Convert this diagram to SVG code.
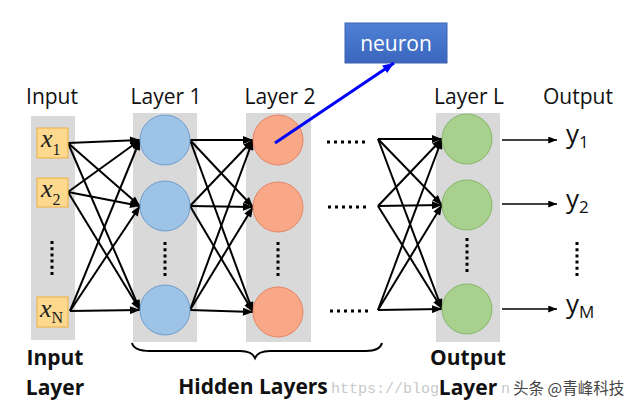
<svg xmlns="http://www.w3.org/2000/svg" width="640" height="410" viewBox="0 0 640 410">
<style>
.lbl{font-family:"Open Sans","Liberation Sans",sans-serif;font-size:21px;fill:#111;text-anchor:middle}
.bld{font-family:"Open Sans","Liberation Sans",sans-serif;font-size:21px;font-weight:bold;fill:#111;text-anchor:middle}
.col{fill:#d9d9d9}
.xb{fill:#fcd98e;stroke:#eeb041;stroke-width:1}
.xv{font-family:"Liberation Serif",serif;font-style:italic;font-size:26px;fill:#222}
.xs{font-family:"Liberation Serif",serif;font-size:16px;fill:#222}
.blue{fill:#9dc3e6;stroke:#6e9bd0;stroke-width:1}
.org{fill:#f8a886;stroke:#e58565;stroke-width:1}
.grn{fill:#a9d18e;stroke:#85b66a;stroke-width:1}
.ed{stroke:#000;stroke-width:2;fill:none;marker-end:url(#ah)}
.out{stroke:#000;stroke-width:1.5;fill:none;marker-end:url(#ah2)}
.hd{stroke:#000;stroke-width:3;stroke-dasharray:3 4;fill:none}
.vd{stroke:#000;stroke-width:3;stroke-dasharray:3 3.2;fill:none}
.yv{font-family:"Open Sans","Liberation Sans",sans-serif;font-size:26px;fill:#111}
.ys{font-family:"Open Sans","Liberation Sans",sans-serif;font-size:17px;fill:#111}
</style>
<defs>
<marker id="ah" viewBox="0 0 10 8" markerWidth="11" markerHeight="8" markerUnits="userSpaceOnUse" refX="10" refY="4" orient="auto"><path d="M0,0 L10,4 L0,8 Z" fill="#000"/></marker>
<marker id="ah2" viewBox="0 0 10 8" markerWidth="9" markerHeight="7" markerUnits="userSpaceOnUse" refX="10" refY="4" orient="auto"><path d="M0,0 L10,4 L0,8 Z" fill="#000"/></marker>
<marker id="ahb" viewBox="0 0 10 8" markerWidth="12" markerHeight="9" markerUnits="userSpaceOnUse" refX="10" refY="4" orient="auto"><path d="M0,0 L10,4 L0,8 Z" fill="#0000ff"/></marker>
<linearGradient id="nb" x1="0" y1="0" x2="0" y2="1"><stop offset="0" stop-color="#4f81d4"/><stop offset="1" stop-color="#3a66bd"/></linearGradient>
</defs>
<rect width="640" height="410" fill="#fff"/>

<g id="column-bg">
<rect class="col" x="31" y="116" width="44" height="224"/>
<rect class="col" x="133" y="113" width="64" height="229"/>
<rect class="col" x="246" y="113" width="65" height="229"/>
<rect class="col" x="436" y="113" width="64" height="229"/>
</g>

<g id="top-labels">
<text class="lbl" x="52" y="104">Input</text>
<text class="lbl" x="166" y="104">Layer 1</text>
<text class="lbl" x="280" y="104">Layer 2</text>
<text class="lbl" x="469" y="104">Layer L</text>
<text class="lbl" x="578" y="104">Output</text>
</g>

<g id="connectors">
<line class="ed" x1="68" y1="143" x2="140" y2="140"/>
<line class="ed" x1="68" y1="143" x2="140" y2="206"/>
<line class="ed" x1="68" y1="143" x2="140" y2="310"/>
<line class="ed" x1="68" y1="192" x2="140" y2="140"/>
<line class="ed" x1="68" y1="192" x2="140" y2="206"/>
<line class="ed" x1="68" y1="192" x2="140" y2="310"/>
<line class="ed" x1="70" y1="311" x2="140" y2="140"/>
<line class="ed" x1="70" y1="311" x2="140" y2="206"/>
<line class="ed" x1="70" y1="311" x2="140" y2="310"/>

<line class="ed" x1="190" y1="140" x2="253" y2="140"/>
<line class="ed" x1="190" y1="140" x2="253" y2="207"/>
<line class="ed" x1="190" y1="140" x2="253" y2="312"/>
<line class="ed" x1="190" y1="206" x2="253" y2="140"/>
<line class="ed" x1="190" y1="206" x2="253" y2="207"/>
<line class="ed" x1="190" y1="206" x2="253" y2="312"/>
<line class="ed" x1="190" y1="310" x2="253" y2="140"/>
<line class="ed" x1="190" y1="310" x2="253" y2="207"/>
<line class="ed" x1="190" y1="310" x2="253" y2="312"/>

<line class="ed" x1="378" y1="139" x2="442" y2="139"/>
<line class="ed" x1="378" y1="139" x2="442" y2="205"/>
<line class="ed" x1="378" y1="139" x2="442" y2="309"/>
<line class="ed" x1="378" y1="206" x2="442" y2="139"/>
<line class="ed" x1="378" y1="206" x2="442" y2="205"/>
<line class="ed" x1="378" y1="206" x2="442" y2="309"/>
<line class="ed" x1="378" y1="310" x2="442" y2="139"/>
<line class="ed" x1="378" y1="310" x2="442" y2="205"/>
<line class="ed" x1="378" y1="310" x2="442" y2="309"/>

<line class="out" x1="502" y1="140" x2="557" y2="140"/>
<line class="out" x1="502" y1="204" x2="557" y2="204"/>
<line class="out" x1="502" y1="309" x2="557" y2="309"/>
</g>

<g id="input-x1"><rect class="xb" x="37" y="128" width="31" height="30"/><text x="41" y="147"><tspan class="xv">x</tspan><tspan class="xs" dy="8">1</tspan></text></g>
<g id="input-x2"><rect class="xb" x="37" y="178" width="31" height="29"/><text x="41" y="197"><tspan class="xv">x</tspan><tspan class="xs" dy="8">2</tspan></text></g>
<g id="input-xN"><rect class="xb" x="37" y="297" width="31" height="30"/><text x="40" y="317"><tspan class="xv">x</tspan><tspan class="xs" dy="6">N</tspan></text></g>

<g id="layer1-n1"><circle class="blue" cx="165" cy="140" r="25"/></g>
<g id="layer1-n2"><circle class="blue" cx="165" cy="206" r="25"/></g>
<g id="layer1-n3"><circle class="blue" cx="165" cy="310" r="25"/></g>
<g id="layer2-n1"><circle class="org" cx="278" cy="140" r="25"/></g>
<g id="layer2-n2"><circle class="org" cx="278" cy="207" r="25"/></g>
<g id="layer2-n3"><circle class="org" cx="278" cy="312" r="25"/></g>
<g id="layerL-n1"><circle class="grn" cx="467" cy="139" r="25"/></g>
<g id="layerL-n2"><circle class="grn" cx="467" cy="205" r="25"/></g>
<g id="layerL-n3"><circle class="grn" cx="467" cy="309" r="25"/></g>

<g id="dots">
<line class="vd" x1="52" y1="241" x2="52" y2="276"/>
<line class="vd" x1="165" y1="242" x2="165" y2="277"/>
<line class="vd" x1="278" y1="242" x2="278" y2="277"/>
<line class="vd" x1="467" y1="238" x2="467" y2="273"/>
<line class="vd" x1="577" y1="242" x2="577" y2="277"/>
<line class="hd" x1="327" y1="142" x2="366" y2="142"/>
<line class="hd" x1="328" y1="207" x2="367" y2="207"/>
<line class="hd" x1="330" y1="311" x2="369" y2="311"/>
</g>

<g id="outputs">
<text x="566" y="143"><tspan class="yv">y</tspan><tspan class="ys" dy="5">1</tspan></text>
<text x="566" y="208"><tspan class="yv">y</tspan><tspan class="ys" dy="5">2</tspan></text>
<text x="566" y="313"><tspan class="yv">y</tspan><tspan class="ys" dy="5">M</tspan></text>
</g>

<g id="neuron">
<rect x="345" y="23" width="102" height="40" fill="url(#nb)" stroke="#3a62b0" stroke-width="1"/>
<text x="396" y="51" style="font-family:'Open Sans','Liberation Sans',sans-serif;font-size:21px;fill:#fff;text-anchor:middle">neuron</text>
</g>
<g id="neuron-pointer"><line x1="275" y1="143" x2="394" y2="63" stroke="#0000ff" stroke-width="3" marker-end="url(#ahb)"/></g>

<g id="brace"><path d="M132,343 Q134,351 150,351 L240,351 Q252,351 255,358 Q258,351 270,351 L366,351 Q380,351 382,343" fill="none" stroke="#000" stroke-width="2"/></g>

<g id="bottom-labels">
<text class="bld" x="55" y="365">Input</text>
<text class="bld" x="55" y="395">Layer</text>
<text class="bld" x="253" y="394">Hidden Layers</text>
<text x="331" y="393" style="font-family:'Liberation Mono',monospace;font-size:15px;fill:#c8c8c8">https://blog</text>
<text class="bld" x="468" y="365">Output</text>
<text class="bld" x="468" y="395">Layer</text>
<text x="501" y="393" style="font-family:'Liberation Mono',monospace;font-size:15px;fill:#c8c8c8">n</text>
<text x="513" y="394" style="font-family:'Noto Sans CJK SC',sans-serif;font-size:15.5px;fill:#444">头条 @青峰科技</text>
</g>
</svg>
